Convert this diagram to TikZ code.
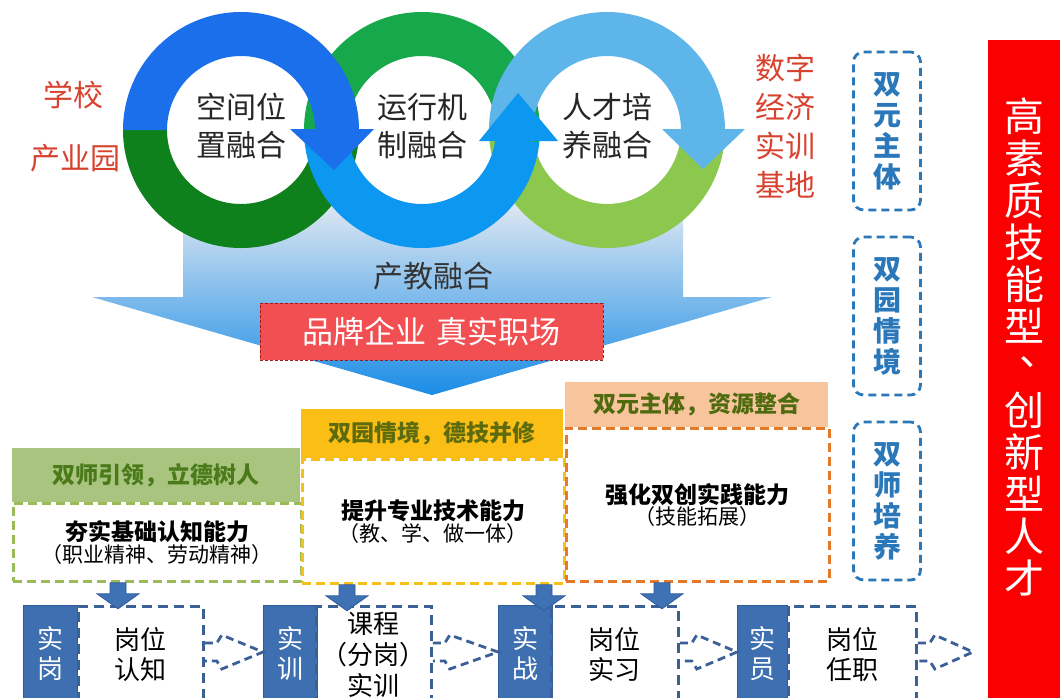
\documentclass[tikz,border=0pt]{standalone}
\usepackage{fontspec}
\setmainfont{Noto Sans CJK SC}
\usetikzlibrary{calc}

\definecolor{ringblueA}{HTML}{1C6FEA}
\definecolor{ringgreenA}{HTML}{0E801C}
\definecolor{ringgreenB}{HTML}{17A84B}
\definecolor{ringblueB}{HTML}{0C98F0}
\definecolor{ringblueC}{HTML}{5EB5E9}
\definecolor{ringgreenC}{HTML}{8CC84E}
\definecolor{labelred}{HTML}{D8432F}
\definecolor{sideblue}{HTML}{2A78BA}
\definecolor{barred}{HTML}{FA0000}
\definecolor{hdrAfill}{HTML}{A9C47F}
\definecolor{hdrAtext}{HTML}{4A7A1A}
\definecolor{bodyAline}{HTML}{9BBB59}
\definecolor{hdrBfill}{HTML}{FABE14}
\definecolor{hdrBtext}{HTML}{5C6B0E}
\definecolor{bodyBline}{HTML}{F5C01A}
\definecolor{hdrCfill}{HTML}{F8C49C}
\definecolor{hdrCtext}{HTML}{4F6B0F}
\definecolor{bodyCline}{HTML}{E5792A}
\definecolor{brandfill}{HTML}{F24F52}
\definecolor{brandline}{HTML}{9B1C1C}
\definecolor{blockblue}{HTML}{3E6FB0}
\definecolor{blockline}{HTML}{2E5B99}
\definecolor{dashblue}{HTML}{3A6096}
\definecolor{arrowblue}{HTML}{3E72B5}
\definecolor{bigtop}{HTML}{ECEEF2}
\definecolor{bigmid}{HTML}{B4D0EE}
\definecolor{bigbot}{HTML}{1A8CE6}

\newcommand{\ringseg}[4]{\fill[#4] ($(#1)+(#2:118)$) arc[start angle=#2, end angle=#3, radius=118] -- ($(#1)+(#3:74)$) arc[start angle=#3, end angle=#2, radius=74] -- cycle;}

\tikzset{
  ringtxt/.style={font=\fontsize{30pt}{38pt}\selectfont, text=black!85, align=center, inner sep=0pt},
  redlbl/.style={font=\fontsize{30pt}{39pt}\selectfont, text=labelred, align=center, inner sep=0pt},
  sidebox/.style={draw=sideblue, line width=2.8pt, dash pattern=on 8pt off 5pt, rounded corners=10pt,
    minimum width=67pt, minimum height=158pt, inner sep=0pt, text=sideblue,
    font=\fontsize{28pt}{31pt}\selectfont\bfseries, align=center},
  hdr/.style={minimum height=#1, inner sep=0pt, anchor=north west, font=\fontsize{23pt}{23pt}\selectfont\bfseries},
  body/.style={line width=2.8pt, dash pattern=on 9pt off 5pt, inner sep=0pt, anchor=north west, fill=white, align=center},
  bblock/.style={fill=blockblue, draw=blockline, line width=1pt, minimum width=54pt, minimum height=96pt,
    inner sep=0pt, anchor=north west, text=white, align=center, font=\fontsize{26pt}{30pt}\selectfont},
  wbox/.style={draw=dashblue, line width=2.8pt, dash pattern=on 10pt off 6pt, minimum height=96pt,
    inner sep=0pt, anchor=north west, align=center, font=\fontsize{26pt}{30pt}\selectfont, text=black},
  conn/.style={draw=dashblue, line width=2.8pt, dash pattern=on 8pt off 5pt},
  downarrow/.pic={\fill[arrowblue, draw=blockline, line width=0.8pt] (-8,0) -- (8,0) -- (8,11) -- (21,11) -- (0,26) -- (-21,11) -- (-8,11) -- cycle;}
}

\begin{document}
\begin{tikzpicture}[x=1pt,y=-1pt]
\clip (0,0) rectangle (1060,697);
\fill[white] (0,0) rectangle (1060,697);

% big down arrow (background)
\shade[top color=bigtop, middle color=bigmid, bottom color=bigbot]
  (183,190) -- (683,190) -- (683,297) -- (772,297) -- (432,395) -- (92,297) -- (183,297) -- cycle;

% rings
\coordinate (C1) at (241,130);
\coordinate (C2) at (422,130);
\coordinate (C3) at (607,130);
\fill[white] (C1) circle[radius=74];
\fill[white] (C2) circle[radius=74];
\fill[white] (C3) circle[radius=74];

\ringseg{C1}{0}{180}{ringgreenA}
\ringseg{C3}{0}{180}{ringgreenC}
\ringseg{C2}{174}{366}{ringgreenB}
\ringseg{C3}{180}{360}{ringblueC}
\fill[ringblueC] (662,129) -- (745,129) -- (703,169) -- cycle;
\ringseg{C2}{180}{6}{ringblueB}
\fill[ringblueB] (479,141) -- (558,141) -- (518,93) -- cycle;
\ringseg{C1}{180}{360}{ringblueA}
\fill[ringblueA] (290,129) -- (374,129) -- (334,170) -- cycle;

\node[ringtxt] (t1) at (C1) [yshift=4pt] {空间位\\置融合};
\node[ringtxt] (t2) at (C2) [yshift=4pt] {运行机\\制融合};
\node[ringtxt] (t3) at (C3) [yshift=4pt] {人才培\\养融合};

% side labels
\node[redlbl] (school) at (73,95) {学校};
\node[redlbl] (park) at (75,158) {产业园};
\node[redlbl] (base) at (785,126) {数字\\经济\\实训\\基地};

% central texts
\node[font=\fontsize{30pt}{30pt}\selectfont, text=black!80, inner sep=0pt] (cj) at (433,276) {产教融合};
\node[fill=brandfill, draw=brandline, line width=0.8pt, dash pattern=on 3pt off 2pt,
  minimum width=343pt, minimum height=57pt, inner sep=0pt, text=white,
  font=\fontsize{31pt}{31pt}\selectfont] (brand) at (431.5,331.5) {品牌企业\hspace{0.3em}真实职场};

% right dashed boxes
\node[sidebox] (s1) at (887,131) {双\\元\\主\\体};
\node[sidebox] (s2) at (887,316) {双\\园\\情\\境};
\node[sidebox] (s3) at (887,501) {双\\师\\培\\养};

% red bar
\node[fill=barred, minimum width=72pt, minimum height=660pt, inner sep=0pt, anchor=north west] (bar) at (988,40) {};
\node[text=white, align=center, inner sep=0pt, font=\fontsize{40pt}{42pt}\selectfont] (bartxt) at (1024,347)
  {高\\素\\质\\技\\能\\型\\\makebox[1em][l]{\hspace{0.38em}\raisebox{0.45em}{、}}\\创\\新\\型\\人\\才};

% three stage boxes
\node[hdr=54pt, minimum width=288pt, fill=hdrAfill, text=hdrAtext] (hA) at (12,448) {双师引领，立德树人};
\node[body, draw=bodyAline, minimum width=288pt, minimum height=78pt] (bA) at (12,502)
  {{\fontsize{23pt}{27pt}\selectfont\bfseries 夯实基础认知能力}\\{\fontsize{21pt}{27pt}\selectfont （职业精神、劳动精神）}};

\node[hdr=49pt, minimum width=262pt, fill=hdrBfill, text=hdrBtext] (hB) at (301,409) {双园情境，德技并修};
\node[body, draw=bodyBline, minimum width=262pt, minimum height=124pt] (bB) at (301,458)
  {{\fontsize{23pt}{28pt}\selectfont\bfseries 提升专业技术能力}\\{\fontsize{21pt}{28pt}\selectfont （教、学、做一体）}};

\node[hdr=45pt, minimum width=263pt, fill=hdrCfill, text=hdrCtext] (hC) at (565,382) {双元主体，资源整合};
\node[body, draw=bodyCline, minimum width=263pt, minimum height=153pt] (bC) at (565,427)
  {{\fontsize{23pt}{26pt}\selectfont\bfseries 强化双创实践能力}\\{\fontsize{21pt}{26pt}\selectfont （技能拓展）}};

% bottom row
\node[bblock] (k1) at (23,605) {实\\岗};
\node[wbox, minimum width=125pt] (w1) at (77,605) {岗位\\认知};
\node[bblock] (k2) at (263,605) {实\\训};
\node[wbox, minimum width=115pt, font=\fontsize{26pt}{31pt}\selectfont] (w2) at (315,605) {课程\\（分岗）\\实训};
\node[bblock] (k3) at (498,605) {实\\战};
\node[wbox, minimum width=127pt] (w3) at (550,605) {岗位\\实习};
\node[bblock, minimum width=50pt] (k4) at (737,605) {实\\员};
\node[wbox, minimum width=128pt] (w4) at (787,605) {岗位\\任职};
\coordinate (endtip) at (973,652);

% connectors between stages (dashed block arrows)
\draw[conn] ($(w1.north east)+(0,38)$) -- ++(12,0) -- ++(5,-8) -- ($(k2.north west)+(0,47)$)
  -- ($(w1.north east)+(17,64)$) -- ($(w1.north east)+(12,56)$) -- ($(w1.north east)+(0,56)$);
\draw[conn] ($(w2.north east)+(0,38)$) -- ++(12,0) -- ++(5,-8) -- ($(k3.north west)+(0,47)$)
  -- ($(w2.north east)+(17,64)$) -- ($(w2.north east)+(12,56)$) -- ($(w2.north east)+(0,56)$);
\draw[conn] ($(w3.north east)+(0,38)$) -- ++(12,0) -- ++(5,-8) -- ($(k4.north west)+(0,47)$)
  -- ($(w3.north east)+(17,64)$) -- ($(w3.north east)+(12,56)$) -- ($(w3.north east)+(0,56)$);
\draw[conn] ($(w4.north east)+(0,38)$) -- ++(12,0) -- ++(5,-8) -- (endtip)
  -- ($(w4.north east)+(17,64)$) -- ($(w4.north east)+(12,56)$) -- ($(w4.north east)+(0,56)$);

% down arrows from stage boxes to the bottom row
\coordinate (d1) at ($(bA.south west)+(106,0)$);
\coordinate (d2) at ($(bB.south west)+(46,0)$);
\coordinate (d3) at ($(bB.south west)+(243,0)$);
\coordinate (d4) at ($(bC.south west)+(97,0)$);
\pic at (d1) {downarrow};
\pic at (d2) {downarrow};
\pic at (d3) {downarrow};
\pic at (d4) {downarrow};
\end{tikzpicture}
\end{document}
